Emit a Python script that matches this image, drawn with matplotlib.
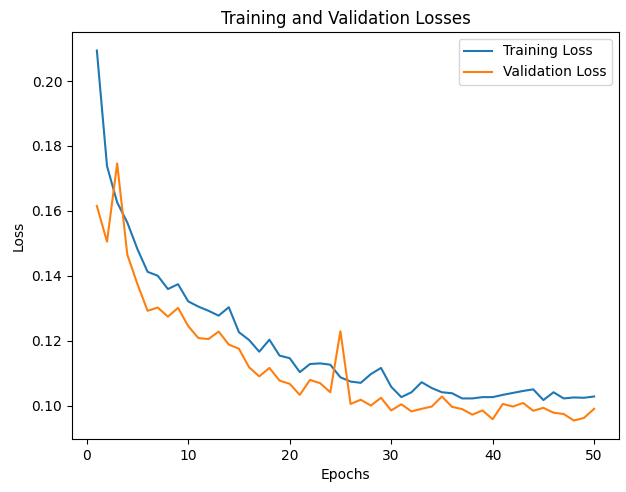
import numpy as np
import matplotlib
matplotlib.use("Agg")
import matplotlib.pyplot as plt


epochs = np.arange(1, 51)

train_loss = [0.2094, 0.1738, 0.1626, 0.1564, 0.1482, 0.1412, 0.1400, 0.1359, 0.1374, 0.1321,
              0.1305, 0.1292, 0.1277, 0.1303, 0.1226, 0.1202, 0.1166, 0.1203, 0.1154, 0.1146,
              0.1103, 0.1128, 0.1130, 0.1126, 0.1087, 0.1074, 0.1070, 0.1097, 0.1116, 0.1058,
              0.1026, 0.1041, 0.1072, 0.1054, 0.1041, 0.1038, 0.1022, 0.1022, 0.1026, 0.1026,
              0.1033, 0.1039, 0.1045, 0.1050, 0.1017, 0.1041, 0.1022, 0.1025, 0.1024, 0.1028]

val_loss = [0.1615, 0.1505, 0.1746, 0.1465, 0.1374, 0.1292, 0.1302, 0.1274, 0.1301, 0.1245,
            0.1208, 0.1205, 0.1228, 0.1188, 0.1175, 0.1118, 0.1090, 0.1116, 0.1077, 0.1067,
            0.1033, 0.1079, 0.1069, 0.1041, 0.1229, 0.1005, 0.1018, 0.1000, 0.1024, 0.0985,
            0.1004, 0.0982, 0.0990, 0.0997, 0.1028, 0.0996, 0.0989, 0.0972, 0.0985, 0.0958,
            0.1005, 0.0997, 0.1008, 0.0984, 0.0993, 0.0978, 0.0974, 0.0954, 0.0962, 0.0990]


fig = plt.figure(figsize=(6.26, 4.92), dpi=100)
fig.subplots_adjust(left=72/626, right=619/626, top=1-32/492, bottom=1-439/492)
plt.plot(epochs, train_loss, label='Training Loss')
plt.plot(epochs, val_loss, label='Validation Loss')
plt.title('Training and Validation Losses')
plt.xlabel('Epochs')
plt.ylabel('Loss')
plt.legend()
plt.savefig('out.png', dpi=100)
